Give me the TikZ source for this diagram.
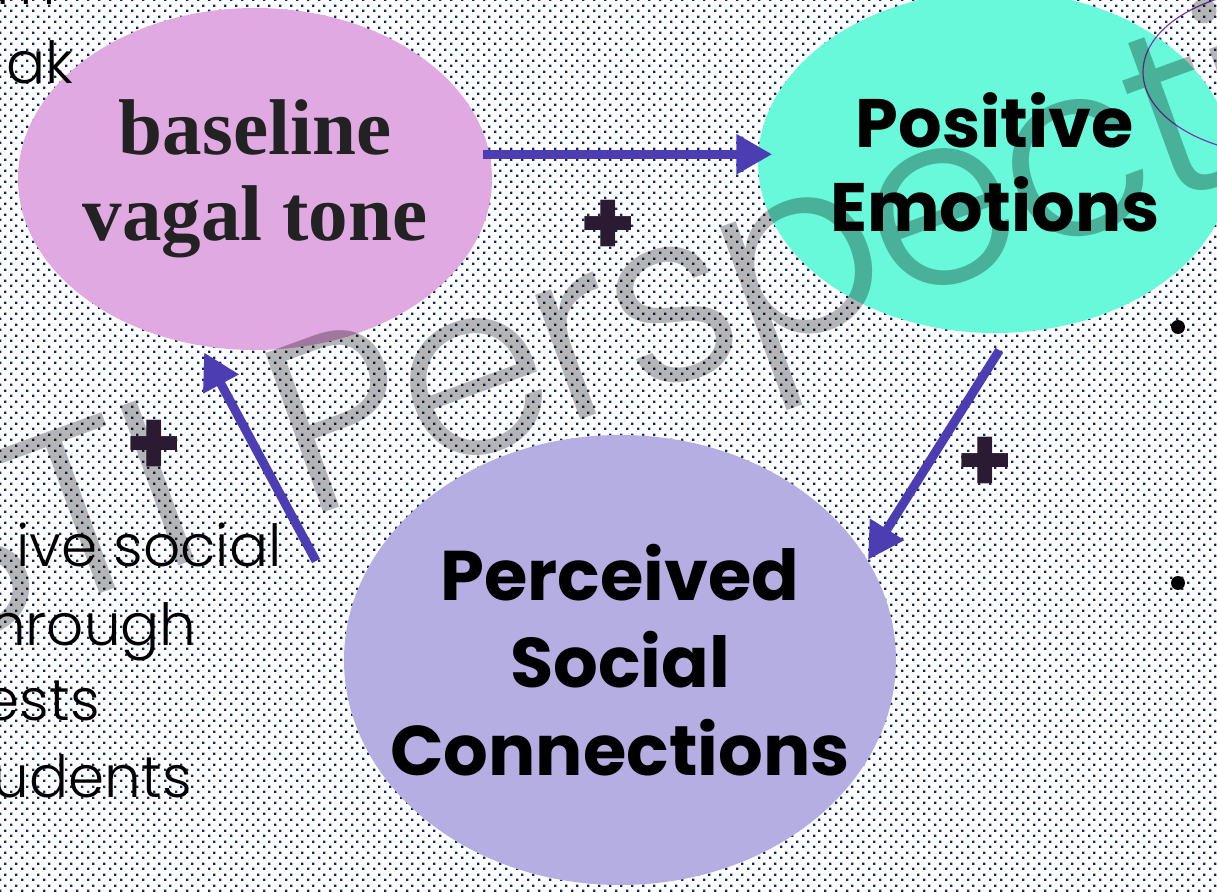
\documentclass[tikz,border=0pt]{standalone}
\usepackage{fontspec}
\usepackage{tikz}
\usetikzlibrary{arrows.meta}
\usetikzlibrary{shapes.geometric}
\usetikzlibrary{patterns}
\setmainfont{Liberation Serif}
\newfontfamily\gothfont{Poppins}
\newfontfamily\thinfont{Poppins Light}
\definecolor{dotnavy}{HTML}{0B2A63}
\definecolor{vagalpink}{HTML}{E1A9E1}
\definecolor{emoaqua}{HTML}{68F9DA}
\definecolor{sociallav}{HTML}{B4AEE2}
\definecolor{arrowblue}{HTML}{4C3DB3}
\definecolor{plusdark}{HTML}{2A1B33}
\definecolor{textgray}{HTML}{222222}
\definecolor{curveviolet}{HTML}{7A3AA8}
\pgfdeclarepatternformonly{slidedots}{\pgfpointorigin}{\pgfpoint{0.11cm}{0.11cm}}{\pgfpoint{0.11cm}{0.11cm}}{%
  \pgfpathrectangle{\pgfpoint{0cm}{0cm}}{\pgfpoint{0.026cm}{0.026cm}}%
  \pgfpathrectangle{\pgfpoint{0.055cm}{0.055cm}}{\pgfpoint{0.026cm}{0.026cm}}%
  \pgfusepath{fill}}
\tikzset{bubble/.style = {ellipse, inner xsep=-0.5cm, inner ysep=-0.3cm, align=center}}
\tikzset{flow/.style = {draw=arrowblue, line width=0.09cm, -{Triangle[length=0.36cm,width=0.38cm]}}}
\tikzset{plussign/.style = {text=plusdark, font=\gothfont\bfseries\fontsize{26}{26}\selectfont}}
\tikzset{sidetext/.style = {anchor=base east, font=\thinfont\fontsize{16.5}{20}\selectfont}}
\tikzset{watermark/.style = {rotate=20, opacity=0.29, font=\thinfont\fontsize{69}{69}\selectfont\addfontfeature{LetterSpace=-3}}}

\begin{document}
\begin{tikzpicture}
        \useasboundingbox (0,0) rectangle (12.17,8.91);
        \clip (0,0) rectangle (12.17,8.91);
        \fill[white] (0,0) rectangle (12.17,8.91);
        \fill[pattern=slidedots, pattern color=dotnavy] (0,0) rectangle (12.17,8.91);
        % the three ellipses
        \node[bubble, fill=vagalpink, minimum width=4.74cm, minimum height=3.42cm, text=textgray, font=\bfseries\fontsize{22.5}{24.5}\selectfont] (vagal) at (2.55,7.12) {baseline\\vagal tone};
        \node[bubble, fill=emoaqua, minimum width=4.74cm, minimum height=3.42cm, font=\gothfont\bfseries\fontsize{19.5}{24}\selectfont] (emotions) at (9.95,7.29) {Positive\\Emotions};
        \node[bubble, fill=sociallav, minimum width=5.52cm, minimum height=4.5cm, font=\gothfont\bfseries\fontsize{20}{25}\selectfont] (social) at (6.20,2.31) {Perceived\\Social\\Connections};
        \draw[curveviolet, line width=0.012cm] (12.90,8.19) ellipse [x radius=1.47, y radius=0.84];
        % text cut off on the left
        \node[sidetext] (lineA) at (0.68,8.86) {m};
        \node[sidetext] (lineB) at (0.86,8.08) {ak};
        \node[sidetext] (lineC) at (2.94,3.24) {ive social};
        \node[sidetext] (lineD) at (2.09,2.46) {hrough};
        \node[sidetext] (lineE) at (1.12,1.71) {ests};
        \node[sidetext] (lineF) at (2.04,0.94) {udents};
        % watermark
        \node[watermark, anchor=base east] (markL) at (2.24,3.42) {STI};
        \node[watermark, anchor=base west] (markR) at (2.94,3.67) {Perspectives};
        % arrows
        \coordinate (socialtail) at (3.16,3.30);
        \draw[flow, shorten <=-0.07cm, shorten >=-0.15cm] (vagal.6) -- (vagal.6 -| emotions.west);
        \draw[flow, shorten <=0.2cm] (emotions.-85) -- (social.22);
        \draw[flow, shorten >=0.07cm] (socialtail) -- (vagal.252);
        \node[plussign] (plusA) at (6.08,6.63) {+};
        \node[plussign] (plusB) at (1.54,4.43) {+};
        \node[plussign] (plusC) at (9.85,4.26) {+};
        % bullets on the right
        \node[circle, fill=black, inner sep=0pt, minimum size=0.14cm] (bulletA) at (11.78,5.64) {};
        \node[circle, fill=black, inner sep=0pt, minimum size=0.14cm] (bulletB) at (11.78,3.08) {};
\end{tikzpicture}
\end{document}
